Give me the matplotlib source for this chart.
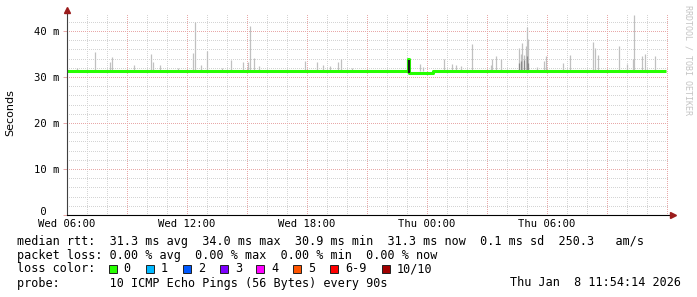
import matplotlib
matplotlib.use("Agg")
import matplotlib.pyplot as plt
from matplotlib.patches import Rectangle
from matplotlib.transforms import ScaledTranslation
import numpy as np

# ---------------- data ----------------
# hours since Wed 06:00
x_tick_hours = [0, 6, 12, 18, 24]
x_tick_labels = ["Wed 06:00", "Wed 12:00", "Wed 18:00", "Thu 00:00", "Thu 06:00"]
y_tick_values = [0, 10, 20, 30, 40]
y_tick_labels = [" 0  ", "10 m", "20 m", "30 m", "40 m"]

# median rtt (ms), step series
median_hours = [0.0, 17.05, 17.12, 18.28, 29.93]
median_ms = [31.3, 34.0, 30.95, 31.3, 31.3]

# smoke spikes (max ping per interval, ms)
smoke_hours = [0.48, 1.42, 2.17, 2.27, 3.37, 4.22, 4.32, 4.67, 5.55, 6.32, 6.38,
               6.72, 6.98, 7.73, 8.22, 8.82, 9.07, 9.17, 9.37, 9.62, 11.92,
               12.48, 12.82, 13.15, 13.57, 13.72, 14.23, 16.98, 17.67, 17.82,
               18.87, 19.27, 19.47, 19.72, 20.27, 21.18, 21.27, 21.47, 21.72,
               22.62, 22.72, 22.77, 22.87, 22.95, 23.02, 23.07, 23.52, 23.87,
               23.97, 24.82, 25.17, 26.32, 26.40, 26.57, 27.62, 27.98, 28.28,
               28.37, 28.77, 28.90, 29.42]
smoke_ms = [32.0, 35.5, 33.3, 34.4, 32.6, 35.1, 33.3, 32.6, 31.9, 35.3, 42.0,
            32.6, 35.7, 32.0, 33.7, 33.2, 33.2, 41.1, 34.2, 32.3, 33.5,
            33.3, 32.6, 32.4, 33.3, 33.9, 31.9, 34.1, 32.8, 32.2,
            33.9, 32.8, 32.6, 32.4, 37.2, 32.6, 33.9, 34.6, 33.9,
            36.3, 34.9, 37.5, 34.8, 36.7, 40.8, 38.2, 32.2, 33.4,
            34.6, 33.1, 34.8, 37.7, 36.2, 34.8, 36.7, 32.8, 33.9,
            43.5, 34.6, 35.1, 34.6]

# denser (darker) smoke
dense_hours = [22.62, 22.72, 22.87, 23.02, 23.07]
dense_ms = [33.0, 33.5, 33.8, 34.5, 33.0]

# dark burst
burst_hours = [17.08]
burst_low = [30.9]
burst_high = [33.8]

smoke_base = 31.2

loss_labels = ["0", "1", "2", "3", "4", "5", "6-9", "10/10"]
loss_colors = ["#26ff00", "#00b8ff", "#0059ff", "#7e00ff", "#ff00ff",
               "#ff5500", "#ff0000", "#a10000"]

stats_line1 = "median rtt:  31.3 ms avg  34.0 ms max  30.9 ms min  31.3 ms now  0.1 ms sd  250.3   am/s"
stats_line2 = "packet loss: 0.00 % avg  0.00 % max  0.00 % min  0.00 % now"
stats_line3 = "loss color:"
stats_line4 = "probe:       10 ICMP Echo Pings (56 Bytes) every 90s"
timestamp = "Thu Jan  8 11:54:14 2026"

# ---------------- figure ----------------
W, H = 697, 297
fig = plt.figure(figsize=(W / 100, H / 100), dpi=100)
fig.patch.set_facecolor("white")

def fx(px):
    return px / W

def fy(py):
    return 1 - py / H

ax_left, ax_right, ax_top, ax_bottom = 67, 669, 13, 215
ax = fig.add_axes([fx(ax_left), fy(ax_bottom), (ax_right - ax_left) / W,
                   (ax_bottom - ax_top) / H])
ax.set_facecolor("white")
ax.set_xlim(0, 30.1)
ax.set_ylim(0, (ax_bottom - ax_top) / 4.6)

mono = "DejaVu Sans Mono"
minor_c = "#d4d4d4"
major_c = "#e8a8a8"
dot = (0, (1, 2))

for h in np.arange(1, 31):
    if h % 3 == 0:
        continue
    ax.axvline(h, color=minor_c, lw=0.72, ls=dot, zorder=1, antialiased=False)
for v in np.arange(2, 44, 2):
    if v % 10 == 0:
        continue
    ax.axhline(v, color=minor_c, lw=0.72, ls=dot, zorder=1, antialiased=False)
for h in np.arange(3, 31, 3):
    ax.axvline(h, color=major_c, lw=0.72, ls=dot, zorder=1.1, antialiased=False)
for v in [10, 20, 30, 40]:
    ax.axhline(v, color=major_c, lw=0.72, ls=dot, zorder=1.1, antialiased=False)

# smoke
ax.vlines(smoke_hours, smoke_base, smoke_ms, colors="#c0c0c0", lw=0.9, zorder=2)
ax.vlines(dense_hours, smoke_base, dense_ms, colors="#8a8a8a", lw=0.9, zorder=2.1)

# median
ax.step(median_hours, median_ms, where="post", color=loss_colors[0], lw=2.2,
        solid_capstyle="butt", zorder=3)
ax.vlines(burst_hours, burst_low, burst_high, colors="#1a1a1a", lw=1.6, zorder=3.5)

# axes
for s in ["top", "right"]:
    ax.spines[s].set_visible(False)
ax.spines["left"].set_color("#404040")
ax.spines["bottom"].set_color("#000000")
ax.spines["left"].set_linewidth(0.8)
ax.spines["bottom"].set_linewidth(0.8)
ax.spines["left"].set_zorder(5)
ax.spines["bottom"].set_zorder(5)

arrow_c = "#9b1c1c"
ax.plot([1 + 4 / 602], [0], marker=">", ms=4.5, color=arrow_c, transform=ax.transAxes,
        clip_on=False, zorder=6)
ax.plot([0], [1 + 3 / 202], marker="^", ms=4.5, color=arrow_c, transform=ax.transAxes,
        clip_on=False, zorder=6)

ax.set_xticks(x_tick_hours)
ax.set_xticklabels(x_tick_labels, fontfamily=mono, fontsize=7.6)
ax.set_yticks(y_tick_values)
ax.set_yticklabels(y_tick_labels, fontfamily=mono, fontsize=7.6)
ax.tick_params(axis="x", length=0, pad=3)
ax.tick_params(axis="y", length=2.9, color=major_c, width=0.7, pad=2.2)
for lbl in ax.get_yticklabels():
    if lbl.get_text().strip() == "0":
        lbl.set_transform(lbl.get_transform() + ScaledTranslation(0, 4 / 100, fig.dpi_scale_trans))

fig.text(fx(10), fy(113), "Seconds", rotation=90, ha="center", va="center",
         fontfamily="DejaVu Sans", fontsize=8)

fig.text(fx(688), fy(5), "RRDTOOL / TOBI OETIKER", rotation=270, ha="center", va="top",
         fontfamily=mono, fontsize=6, color="#c4c4c4")

# legend
lx = 16.7
fs = 8.5
fig.text(fx(lx), fy(241), stats_line1, fontfamily=mono, fontsize=fs, va="center")
fig.text(fx(lx), fy(255), stats_line2, fontfamily=mono, fontsize=fs, va="center")
fig.text(fx(lx), fy(269), stats_line3, fontfamily=mono, fontsize=fs, va="center")
fig.text(fx(lx), fy(283), stats_line4, fontfamily=mono, fontsize=fs, va="center")
fig.text(fx(681), fy(283), timestamp, fontfamily=mono, fontsize=fs, va="center", ha="right")

box_x = [108.7, 145.7, 182.7, 219.7, 256.3, 293.3, 330.0, 381.7]
for bx, lab, col in zip(box_x, loss_labels, loss_colors):
    fig.patches.append(Rectangle((fx(bx), fy(273)), 8 / W, 8 / H, transform=fig.transFigure,
                                 facecolor=col, edgecolor="#202020", lw=0.7))
    fig.text(fx(bx + 15), fy(269), lab, fontfamily=mono, fontsize=fs, va="center")

fig.savefig("out.png", dpi=100)
